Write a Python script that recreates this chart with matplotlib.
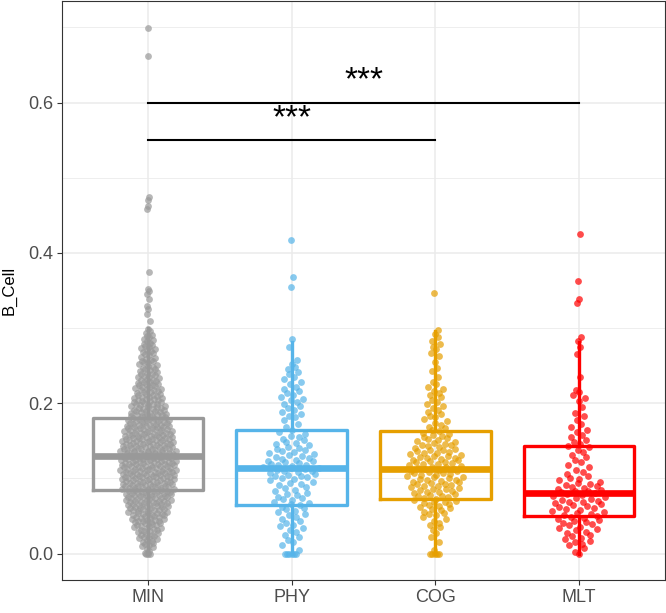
import numpy as np
import matplotlib
matplotlib.use('Agg')
import matplotlib.pyplot as plt

plt.rcParams['font.family'] = ['Liberation Sans', 'DejaVu Sans']

groups = ['MIN', 'PHY', 'COG', 'MLT']
colors = ['#999999', '#56B4E9', '#E69F00', '#FF0000']

# number of points in each 0.01 wide bin of B_Cell (0.00-0.01, 0.01-0.02, ...)
bin_width = 0.01
min_counts = [4, 8, 10, 12, 16, 18, 20, 22, 24, 24, 26, 26, 26, 26, 24,
              24, 22, 20, 18, 16, 14, 12, 12, 10, 9, 8, 7, 7, 6, 4]
phy_counts = [1, 3, 3, 4, 4, 5, 6, 6, 5, 6, 9, 10, 9, 7, 6,
              5, 3, 2, 4, 4, 4, 4, 3, 3, 3, 2, 0, 1, 1]
cog_counts = [1, 1, 2, 3, 4, 6, 8, 9, 10, 11, 11, 11, 11, 10, 9,
              7, 5, 4, 4, 4, 3, 4, 3, 1, 2, 1, 2, 3, 2, 2]
mlt_counts = [2, 5, 5, 6, 7, 8, 8, 8, 9, 6, 4, 3, 3, 3, 4,
              3, 3, 2, 2, 1, 2, 3, 0, 1, 0, 0, 1, 1, 2]

# points sitting right on zero
min_zeros = 3
phy_zeros = 6
cog_zeros = 5
mlt_zeros = 1

# single points above the bulk
min_outliers = [0.310, 0.319, 0.325, 0.330, 0.339, 0.345, 0.350, 0.352,
                0.374, 0.458, 0.462, 0.470, 0.474, 0.662, 0.699]
phy_outliers = [0.355, 0.368, 0.417]
cog_outliers = [0.347]
mlt_outliers = [0.333, 0.339, 0.363, 0.425]

# box stats: lower whisker, Q1, median, Q3, upper whisker
min_box = [0.0, 0.085, 0.130, 0.180, 0.300]
phy_box = [0.0, 0.065, 0.114, 0.165, 0.281]
cog_box = [0.0, 0.073, 0.112, 0.163, 0.296]
mlt_box = [0.0, 0.050, 0.081, 0.143, 0.281]

# significance brackets
bracket_from = [0, 0]
bracket_to = [3, 2]
bracket_y = [0.60, 0.55]
bracket_labels = ['***', '***']


def expand(counts, zeros, outliers):
    vals = [0.0] * zeros
    for i, n in enumerate(counts):
        if n:
            vals += list(i * bin_width + (np.arange(n) + 0.5) * bin_width / n)
    return np.sort(np.array(vals + outliers))


def van_der_corput(n):
    out = np.zeros(n)
    for k in range(1, n + 1):
        q, den, x = k, 1, 0.0
        while q:
            den *= 2
            q, r = divmod(q, 2)
            x += r / den
        out[k - 1] = x
    return out


def quasirandom(vals, width, adjust=0.5):
    # like ggbeeswarm::geom_quasirandom: offsets follow the density
    n = len(vals)
    sd = vals.std(ddof=1)
    q75, q25 = np.percentile(vals, [75, 25])
    bw = 0.9 * min(sd, (q75 - q25) / 1.34) * n ** -0.2 * adjust
    grid = np.linspace(vals.min(), vals.max(), 512)
    dg = np.exp(-0.5 * ((grid[:, None] - vals[None, :]) / bw) ** 2).sum(1)
    dv = np.exp(-0.5 * ((vals[:, None] - vals[None, :]) / bw) ** 2).sum(1)
    ranks = np.argsort(np.argsort(vals, kind='stable'), kind='stable')
    return (van_der_corput(n)[ranks] * 2 - 1) * width * dv / dg.max()


data = [expand(min_counts, min_zeros, min_outliers),
        expand(phy_counts, phy_zeros, phy_outliers),
        expand(cog_counts, cog_zeros, cog_outliers),
        expand(mlt_counts, mlt_zeros, mlt_outliers)]
boxes = [min_box, phy_box, cog_box, mlt_box]

fig = plt.figure(figsize=(6.66, 6.13), dpi=100)
ax = fig.add_axes([62 / 666, 1 - 580 / 613, 603 / 666, 579 / 613])
ax.set_xlim(-0.6, 3.6)
ax.set_ylim(-0.035, 0.735)

for k, vals in enumerate(data):
    off = quasirandom(vals, 0.2)
    ax.scatter(k + off, vals, s=24, color=colors[k], alpha=0.7,
               linewidths=0, zorder=2)

for k, b in enumerate(boxes):
    st = [dict(whislo=b[0], q1=b[1], med=b[2], q3=b[3], whishi=b[4], fliers=[])]
    ax.bxp(st, positions=[k], widths=0.77, showfliers=False, showcaps=False,
           boxprops=dict(color=colors[k], linewidth=2.4),
           whiskerprops=dict(color=colors[k], linewidth=2.4),
           medianprops=dict(color=colors[k], linewidth=4.8, solid_capstyle='butt'),
           manage_ticks=False, zorder=3)

for a, b, h, lab in zip(bracket_from, bracket_to, bracket_y, bracket_labels):
    ax.plot([a, b], [h, h], color='black', linewidth=1.5, zorder=4)
    ax.text((a + b) / 2, h + 0.017, lab, ha='center', va='baseline',
            fontsize=24, color='black', zorder=4)

ax.set_yticks([0.0, 0.2, 0.4, 0.6])
ax.set_yticks([0.1, 0.3, 0.5, 0.7], minor=True)
ax.set_xticks(range(4))
ax.set_xticklabels(groups)
ax.grid(which='major', color='#EBEBEB', linewidth=1.1, zorder=0)
ax.grid(which='minor', axis='y', color='#EBEBEB', linewidth=0.6, zorder=0)
ax.set_axisbelow(True)
ax.tick_params(which='major', length=3.5, width=0.8, color='#333333',
               labelsize=13, labelcolor='#4D4D4D', pad=3)
ax.tick_params(which='minor', length=0)
for s in ax.spines.values():
    s.set_color('#333333')
    s.set_linewidth(0.8)
ax.set_ylabel('B_Cell', fontsize=12, color='black', labelpad=8)

fig.savefig('out.png', dpi=100)
